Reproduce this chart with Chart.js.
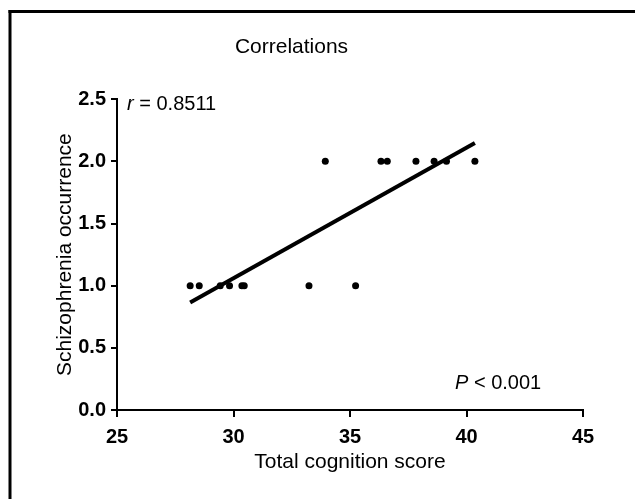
<!DOCTYPE html>
<html>
<head>
<meta charset="utf-8">
<script src="https://cdn.jsdelivr.net/npm/chart.js@4/dist/chart.umd.min.js"></script>
<style>
    body { margin: 0; background: #fff; }
    canvas { display: block; }
</style>
</head>
<body>
<canvas id="chart" width="635" height="499"></canvas>
<script>
    // data
    var cognitionScores = [28.14, 28.53, 29.43, 29.83, 30.36, 30.46, 33.24, 35.24,
                           33.94, 36.33, 36.6, 37.83, 38.61, 39.14, 40.36];
    var occurrence = [1, 1, 1, 1, 1, 1, 1, 1,
                      2, 2, 2, 2, 2, 2, 2];
    var xTicks = [25, 30, 35, 40, 45];
    var yTicks = [0, 0.5, 1, 1.5, 2, 2.5];
    var rLabel = '0.8511';
    var pLabel = '< 0.001';

    var FONT = '"Liberation Sans", Arial, sans-serif';

    var points = cognitionScores.map(function (x, i) {
        return {x: x, y: occurrence[i]};
    });

    // least squares fit, drawn over the range of the data
    function fitLine(xs, ys) {
        var n = xs.length, mx = 0, my = 0, sxy = 0, sxx = 0;
        xs.forEach(function (x, i) { mx += x / n; my += ys[i] / n; });
        xs.forEach(function (x, i) {
            sxy += (x - mx) * (ys[i] - my);
            sxx += (x - mx) * (x - mx);
        });
        var slope = sxy / sxx;
        var x0 = Math.min.apply(null, xs), x1 = Math.max.apply(null, xs);
        return [
            {x: x0, y: my + slope * (x0 - mx)},
            {x: x1, y: my + slope * (x1 - mx)}
        ];
    }
    var fit = fitLine(cognitionScores, occurrence);

    var decorations = {
        id: 'decorations',
        beforeDraw: function (chart) {
            var ctx = chart.ctx;
            ctx.save();
            ctx.fillStyle = '#fff';
            ctx.fillRect(0, 0, chart.width, chart.height);
            ctx.fillStyle = '#000';
            ctx.fillRect(8.5, 10, 3, chart.height - 10);
            ctx.fillRect(8.5, 10, chart.width - 8.5, 3);
            ctx.restore();
        },
        afterDraw: function (chart) {
            var ctx = chart.ctx;
            var area = chart.chartArea;
            ctx.save();
            ctx.fillStyle = '#000';
            ctx.textBaseline = 'middle';
            ctx.textAlign = 'left';

            var x = area.left + 10, y = area.top + 5;
            ctx.font = 'italic 20px ' + FONT;
            ctx.fillText('r', x, y);
            x += ctx.measureText('r').width;
            ctx.font = '20px ' + FONT;
            ctx.fillText(' = ' + rLabel, x, y);

            x = area.left + 338; y = area.bottom - 27;
            ctx.font = 'italic 20px ' + FONT;
            ctx.fillText('P', x, y);
            x += ctx.measureText('P').width;
            ctx.font = '20px ' + FONT;
            ctx.fillText(' ' + pLabel, x, y);
            ctx.restore();
        }
    };

    var axisGrid = function (len) {
        return {
            drawOnChartArea: false,
            drawTicks: true,
            tickLength: len,
            tickWidth: 2,
            color: '#000',
            lineWidth: 2
        };
    };

    var chart = new Chart(document.getElementById('chart').getContext('2d'), {
        type: 'scatter',
        data: {
            datasets: [{
                data: points,
                backgroundColor: '#000',
                borderColor: '#000',
                pointRadius: 3.5,
                pointBorderWidth: 0
            }, {
                type: 'line',
                data: fit,
                borderColor: '#000',
                borderWidth: 4,
                pointRadius: 0,
                fill: false
            }]
        },
        options: {
            responsive: false,
            animation: false,
            layout: {padding: {left: 0, right: 52, top: 0, bottom: 0}},
            plugins: {
                legend: {display: false},
                tooltip: {enabled: false},
                title: {
                    display: true,
                    text: 'Correlations',
                    color: '#000',
                    font: {family: FONT, size: 21, weight: 'normal'},
                    padding: {top: 35, bottom: 39}
                }
            },
            scales: {
                x: {
                    type: 'linear',
                    min: 25,
                    max: 45,
                    afterBuildTicks: function (scale) {
                        scale.ticks = xTicks.map(function (v) { return {value: v}; });
                    },
                    afterFit: function (scale) { scale.height = 89; },
                    border: {color: '#000', width: 2},
                    grid: axisGrid(7),
                    ticks: {
                        color: '#000',
                        padding: 8,
                        maxRotation: 0,
                        font: {family: FONT, size: 20, weight: 'bold'}
                    },
                    title: {
                        display: true,
                        text: 'Total cognition score',
                        color: '#000',
                        font: {family: FONT, size: 21},
                        padding: {top: 0, bottom: 24}
                    }
                },
                y: {
                    type: 'linear',
                    min: 0,
                    max: 2.5,
                    afterBuildTicks: function (scale) {
                        scale.ticks = yTicks.map(function (v) { return {value: v}; });
                    },
                    afterFit: function (scale) { scale.width = 117; },
                    border: {color: '#000', width: 2},
                    grid: axisGrid(6),
                    ticks: {
                        color: '#000',
                        padding: 5,
                        font: {family: FONT, size: 20, weight: 'bold'},
                        callback: function (v) { return Number(v).toFixed(1); }
                    },
                    title: {
                        display: true,
                        text: 'Schizophrenia occurrence',
                        color: '#000',
                        font: {family: FONT, size: 21},
                        padding: {top: 53, bottom: 0}
                    }
                }
            }
        },
        plugins: [decorations]
    });
</script>
</body>
</html>
